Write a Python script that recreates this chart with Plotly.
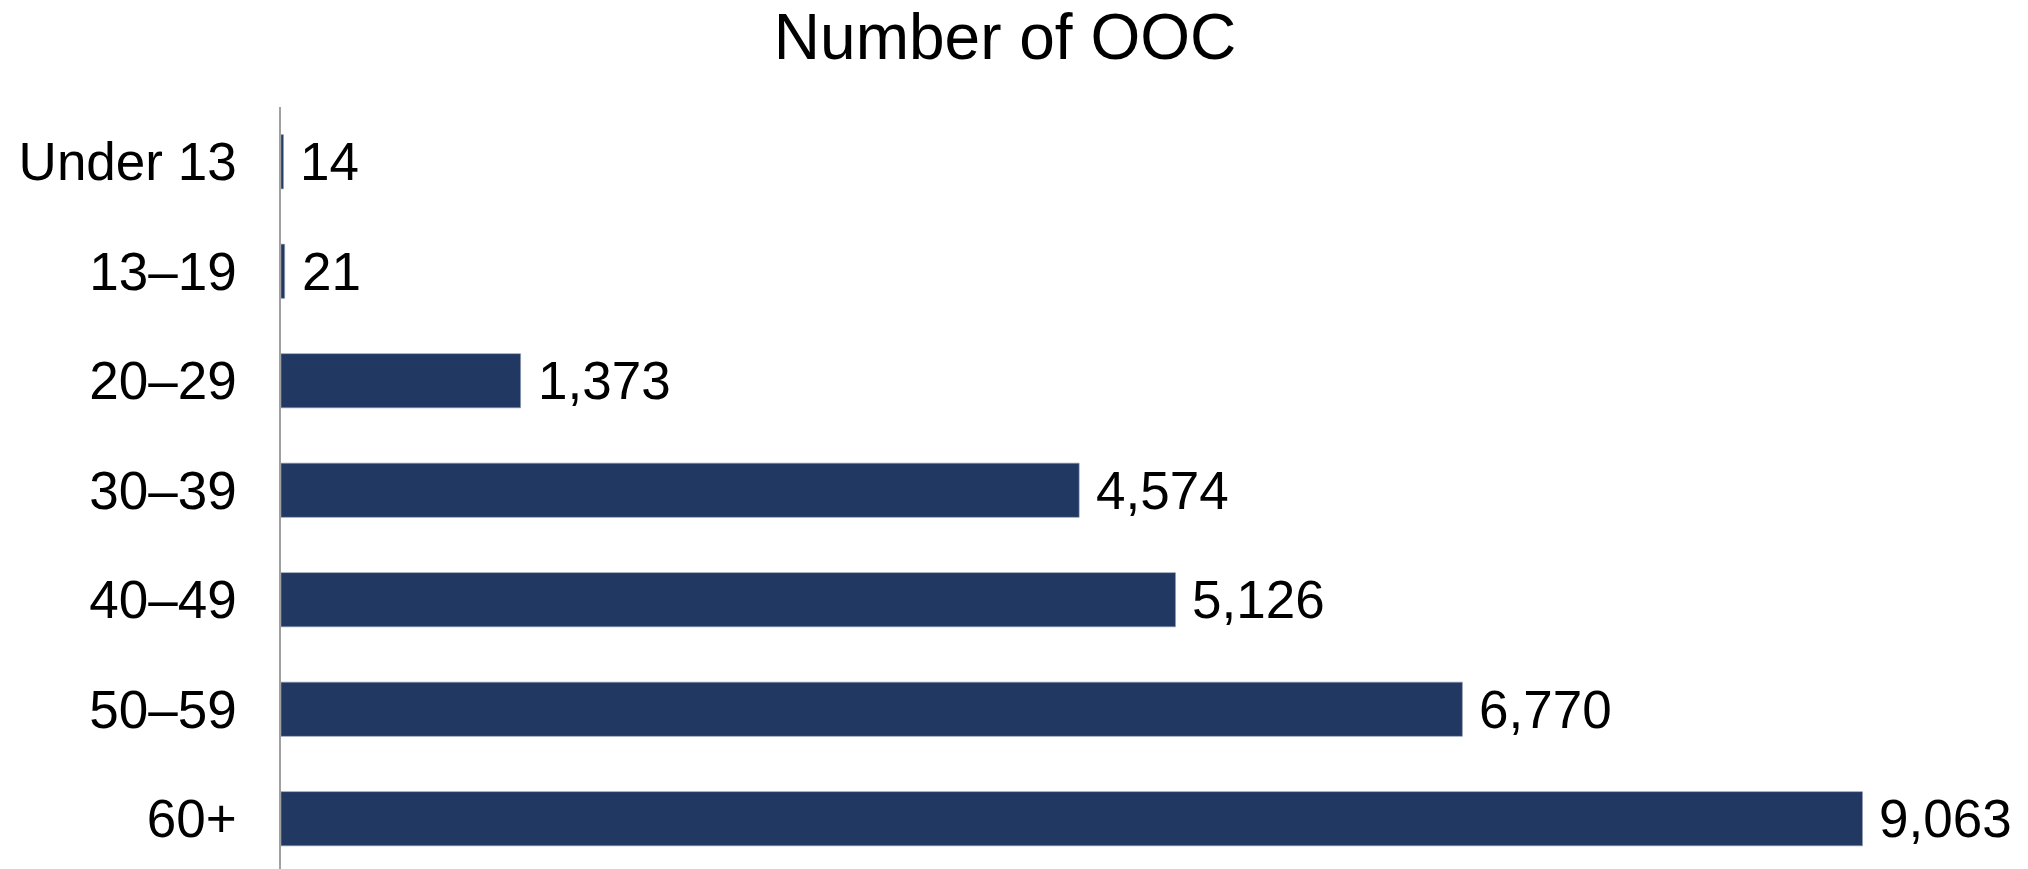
import plotly.graph_objects as go

# Age groups and counts
age_groups = ["Under 13", "13\u201319", "20\u201329", "30\u201339", "40\u201349", "50\u201359", "60+"]
ooc_counts = [14, 21, 1373, 4574, 5126, 6770, 9063]
chart_title = "Number of OOC"

BAR_COLOR = "#213862"
FONT = "Liberation Sans, Arial, sans-serif"

fig = go.Figure()
fig.add_trace(go.Bar(
    y=age_groups,
    x=ooc_counts,
    orientation="h",
    marker=dict(color=BAR_COLOR, line=dict(color="#8e9ab0", width=0.6)),
    hoverinfo="x+y",
))

# value labels just past the end of each bar
for cat, val in zip(age_groups, ooc_counts):
    fig.add_annotation(
        x=val, y=cat, xref="x", yref="y",
        text=f"{val:,}", showarrow=False,
        xanchor="left", yanchor="middle", xshift=15,
        font=dict(family=FONT, size=53, color="#000000"),
    )

fig.update_layout(
    width=2028, height=869,
    margin=dict(l=281, r=2, t=107, b=0),
    paper_bgcolor="white", plot_bgcolor="white",
    bargap=0.505,
    showlegend=False,
    title=dict(
        text=chart_title,
        x=1005 / 2028, xref="container", xanchor="center",
        y=1 - 37 / 869, yref="container", yanchor="middle",
        font=dict(family=FONT, size=64, color="#000000"),
    ),
    font=dict(family=FONT, color="#000000"),
)

fig.update_xaxes(
    range=[0, 10000], showgrid=False, zeroline=False,
    showticklabels=False, ticks="", showline=False,
)
fig.update_yaxes(
    type="category", categoryorder="array", categoryarray=age_groups,
    range=[6.459, -0.5], showgrid=False, zeroline=False,
    showline=True, linecolor="#A0A0A0", linewidth=1.5,
    ticks="", ticklabelstandoff=32,
    tickfont=dict(family=FONT, size=53, color="#000000"),
)

fig.write_html("out.html")
